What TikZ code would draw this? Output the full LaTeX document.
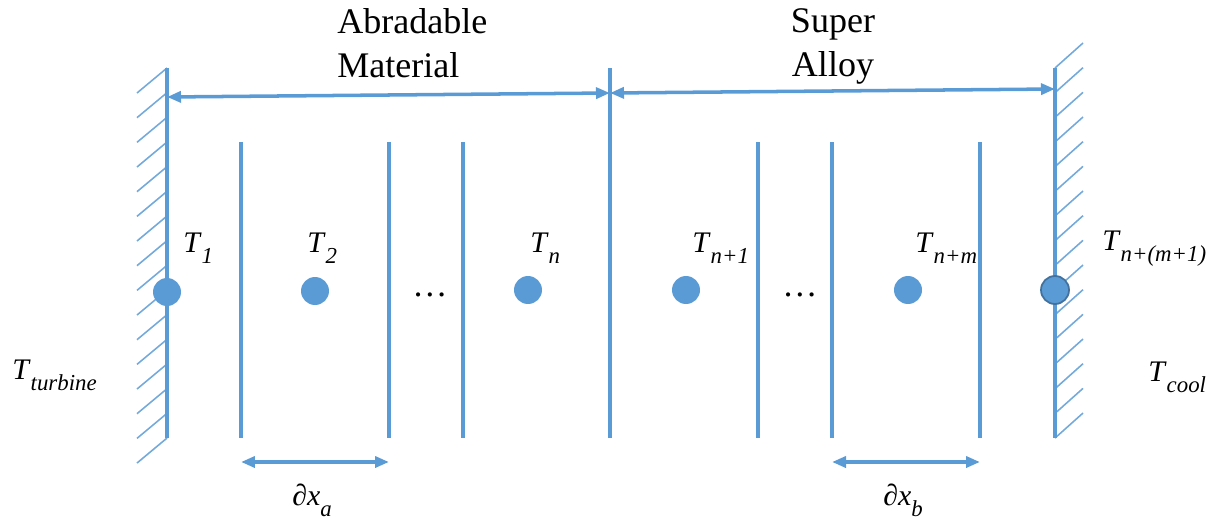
\documentclass[tikz,border=0pt]{standalone}
\usepackage{fontspec}
\setmainfont{Liberation Serif}
\usetikzlibrary{arrows.meta}
\definecolor{wallblue}{RGB}{91,155,213}
\definecolor{dotedge}{RGB}{65,113,156}
\newcommand{\Tlbl}[2]{\textit{#1}\raisebox{-0.4em}{\fontsize{13}{15}\selectfont\textit{#2}}}
\tikzset{
    % walls and cells
    wall/.style={line width=2.6pt, draw=wallblue},
    cell/.style={line width=2pt, draw=wallblue},
    hatch/.style={line width=0.9pt, draw=wallblue!85},
    dimarrow/.style={{Triangle[length=2.8mm, width=2.2mm]}-{Triangle[length=2.8mm, width=2.2mm]},
                line width=2pt, draw=wallblue},
    % temperature points
    tnode/.style={circle, fill=wallblue, minimum size=0.56cm, inner sep=0pt},
    tlbl/.style={font=\fontsize{17}{20}\selectfont, inner sep=0pt, anchor=base west},
    matlbl/.style={font=\fontsize{20.5}{25}\selectfont, align=#1, inner sep=0pt},
}
\begin{document}
\begin{tikzpicture}[x=0.02cm, y=-0.02cm]
\useasboundingbox (0,0) rectangle (1215,521);

% walls
\coordinate (lwtop) at (167,68);
\coordinate (lwbot) at (167,438);
\coordinate (mwtop) at (610,68);
\coordinate (mwbot) at (610,438);
\coordinate (rwtop) at (1055,68);
\coordinate (rwbot) at (1055,438);
\foreach \i in {0,...,15} {
    \draw[hatch] (167,68+\i*24.67) -- ++(-30,25);
    \draw[hatch] (1055,68+\i*24.67) -- ++(28,-25);
}
\draw[wall] (lwtop) -- (lwbot);
\draw[wall] (mwtop) -- (mwbot);
\draw[wall] (rwtop) -- (rwbot);

% cells
\foreach \x [count=\k] in {241,389,463,758,832,980} {
    \coordinate (ct\k) at (\x,142);
    \coordinate (cb\k) at (\x,438);
    \draw[cell] (ct\k) -- (cb\k);
}

% material spans
\coordinate (al) at (167,97);
\coordinate (am) at (610,93);
\coordinate (ar) at (1055,89);
\draw[dimarrow] (al) -- (am);
\draw[dimarrow] (am) -- (ar);
\node[matlbl=left, anchor=north west] (abr) at (337,8) {Abradable\\Material};
\node[matlbl=center, anchor=north] (sup) at (833,8) {Super\\Alloy};

% temperature points
\node[tnode] (t1) at (167,292) {};
\node[tnode] (t2) at (315,291) {};
\node[tnode] (tn) at (528,290) {};
\node[tnode] (tn1) at (686,290) {};
\node[tnode] (tnm) at (908,290) {};
\node[tnode, draw=dotedge, line width=1pt] (tnm1) at (1055,290) {};

\node[tlbl] (l1) at (183,252) {\Tlbl{T}{1}};
\node[tlbl] (l2) at (307,252) {\Tlbl{T}{2}};
\node[tlbl] (ln) at (530,252) {\Tlbl{T}{n}};
\node[tlbl] (ln1) at (692,252) {\Tlbl{T}{n+1}};
\node[tlbl] (lnm) at (915,252) {\Tlbl{T}{n+m}};
\node[tlbl] (lnm1) at (1102,250) {\Tlbl{T}{n+(m+1)}};
\node[tlbl, anchor=base, font=\fontsize{20}{22}\selectfont] (dots1) at (430,296) {\ldots};
\node[tlbl, anchor=base, font=\fontsize{20}{22}\selectfont] (dots2) at (800,296) {\ldots};

\node[tlbl] (ltur) at (12,379) {\Tlbl{T}{turbine}};
\node[tlbl] (lcool) at (1148,381) {\Tlbl{T}{cool}};

% cell widths
\coordinate (dal) at (241,462);
\coordinate (dar) at (389,462);
\coordinate (dbl) at (832,462);
\coordinate (dbr) at (980,462);
\draw[dimarrow] (dal) -- (dar);
\draw[dimarrow] (dbl) -- (dbr);
\node[tlbl] (lda) at (292,505) {\Tlbl{∂x}{a}};
\node[tlbl] (ldb) at (883,505) {\Tlbl{∂x}{b}};
\end{tikzpicture}
\end{document}
